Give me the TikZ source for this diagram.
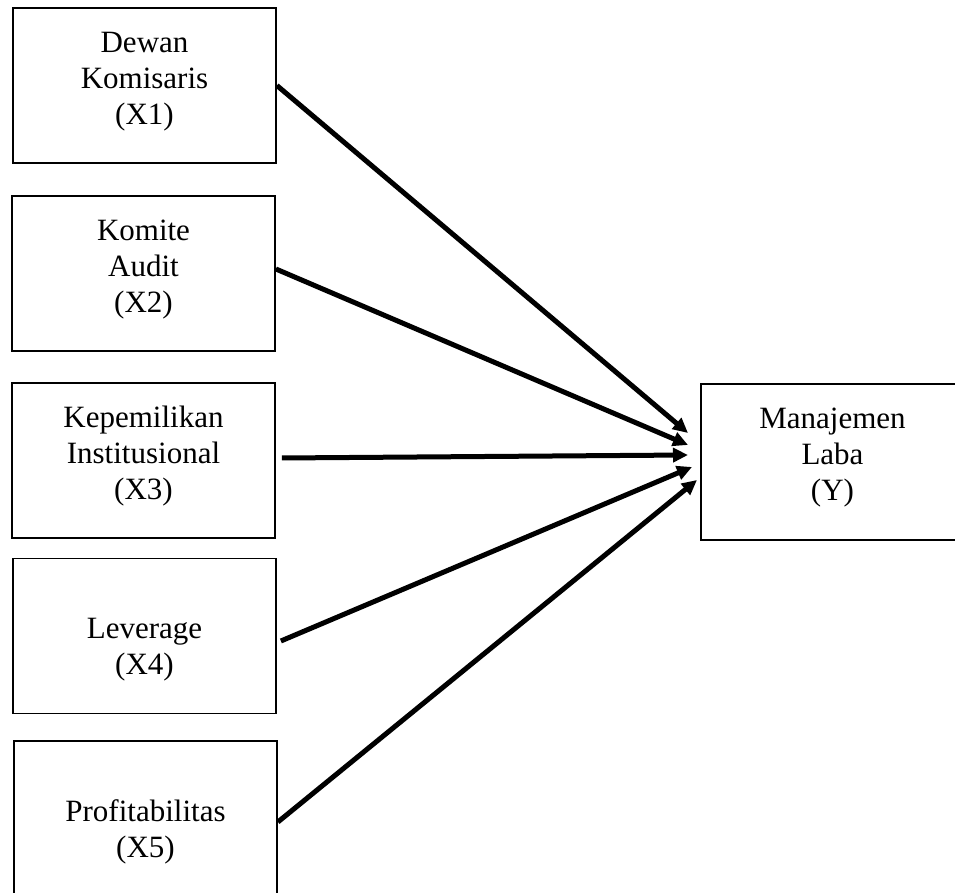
\documentclass[tikz,border=0pt]{standalone}
\usepackage{fontspec}
\setmainfont{Liberation Serif}
\usetikzlibrary{arrows.meta}

\begin{document}
\begin{tikzpicture}[x=0.5pt, y=-0.5pt,
  font=\fontsize{15.5}{18}\selectfont,
  varbox/.style={draw, line width=0.9pt, minimum width=131.5pt, minimum height=77.5pt,
    inner sep=0pt, align=center, text height=47pt, text depth=8pt},
  path/.style={line width=2.5pt, -{Triangle[length=7.5pt, width=7pt]}}]
\clip (0,0) rectangle (955,893);
\node[varbox] (x1) at (144.5,85.5) {Dewan\\Komisaris\\(X1)};
\node[varbox] (x2) at (143.5,273.5) {Komite\\Audit\\(X2)};
\node[varbox] (x3) at (143.5,460.5) {Kepemilikan\\Institusional\\(X3)};
\node[varbox] (x4) at (144.5,636) {\mbox{}\\Leverage\\(X4)};
\node[varbox] (x5) at (145.5,818.5) {\mbox{}\\Profitabilitas\\(X5)};
\node[varbox, minimum height=78pt] (y) at (832.5,462) {Manajemen\\Laba\\(Y)};
\coordinate (tip1) at (688,433);
\coordinate (tip2) at (688,445);
\coordinate (tip3) at (688,455);
\coordinate (tip4) at (692,467);
\coordinate (tip5) at (697,480);
\draw[path] (x1.east) -- (tip1);
\draw[path] ([yshift=2.25pt]x2.east) -- (tip2);
\draw[path] ([xshift=3pt, yshift=1.25pt]x3.east) -- (tip3);
\draw[path] ([xshift=2pt, yshift=-2.5pt]x4.east) -- (tip4);
\draw[path] ([yshift=-1.75pt]x5.east) -- (tip5);
\end{tikzpicture}
\end{document}
